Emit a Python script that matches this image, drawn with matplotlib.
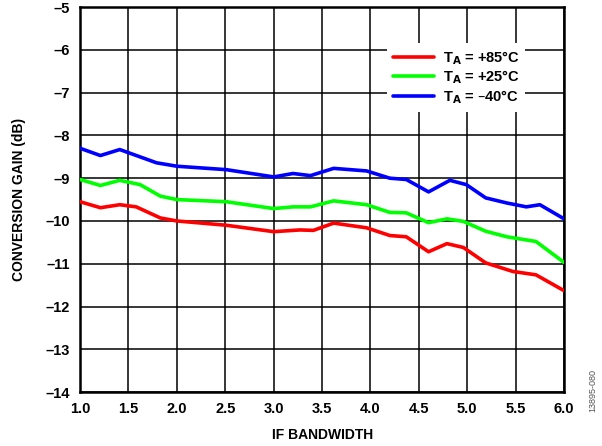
import matplotlib
matplotlib.use("Agg")
import matplotlib.pyplot as plt

plt.rcParams["font.family"] = ["Liberation Sans", "DejaVu Sans"]
plt.rcParams["font.weight"] = "bold"

# IF bandwidth (x) and conversion gain (dB) for each temperature
x_hot = [1.0, 1.21, 1.41, 1.58, 1.83, 2.0, 2.51, 3.0, 3.27, 3.41, 3.62, 3.96,
         4.2, 4.37, 4.6, 4.79, 4.96, 5.19, 5.47, 5.71, 6.0]
y_hot = [-9.55, -9.69, -9.62, -9.67, -9.93, -10.0, -10.1, -10.25, -10.21, -10.22,
         -10.05, -10.16, -10.34, -10.37, -10.72, -10.53, -10.62, -10.98, -11.18,
         -11.26, -11.63]

x_room = [1.0, 1.21, 1.41, 1.62, 1.83, 2.0, 2.51, 3.0, 3.2, 3.38, 3.62, 3.96,
          4.2, 4.37, 4.6, 4.79, 4.96, 5.19, 5.41, 5.71, 6.0]
y_room = [-9.03, -9.17, -9.05, -9.15, -9.42, -9.5, -9.55, -9.71, -9.67, -9.67,
          -9.53, -9.62, -9.8, -9.81, -10.04, -9.95, -10.01, -10.24, -10.37,
          -10.48, -10.97]

x_cold = [1.0, 1.21, 1.41, 1.79, 2.0, 2.51, 3.0, 3.2, 3.38, 3.62, 3.96, 4.2,
          4.37, 4.6, 4.82, 4.99, 5.19, 5.41, 5.61, 5.75, 6.0]
y_cold = [-8.3, -8.47, -8.33, -8.64, -8.72, -8.8, -8.97, -8.89, -8.94, -8.77,
          -8.83, -9.0, -9.03, -9.32, -9.05, -9.15, -9.46, -9.58, -9.67, -9.62,
          -9.95]

labels = ["T$_\\mathbf{A}$ = +85°C", "T$_\\mathbf{A}$ = +25°C", "T$_\\mathbf{A}$ = \u201340°C"]
colors = ["#ff0000", "#00ff00", "#0000ff"]

fig = plt.figure(figsize=(6.02, 4.46), dpi=100)
ax = fig.add_axes([0.133, 0.121, 0.804, 0.863])

for xs, ys, lab, c in zip([x_hot, x_room, x_cold], [y_hot, y_room, y_cold], labels, colors):
    ax.plot(xs, ys, color=c, lw=2.6, label=lab, solid_joinstyle="round",
            solid_capstyle="round", zorder=3)

ax.set_xlim(1.0, 6.0)
ax.set_ylim(-14, -5)
ax.set_xticks([1.0 + 0.5 * i for i in range(11)])
ax.set_xticklabels([f"{1.0 + 0.5 * i:.1f}" for i in range(11)])
ax.set_yticks(range(-14, -4))
ax.set_yticklabels([f"\u2013{abs(v)}" for v in range(-14, -4)])
ax.tick_params(length=0, labelsize=10.5, pad=7)
ax.grid(True, color="black", lw=1.1)
for sp in ax.spines.values():
    sp.set_linewidth(1.8)

ax.set_xlabel("IF BANDWIDTH", fontsize=10, fontweight="bold", labelpad=9)
ax.set_ylabel("CONVERSION GAIN (dB)", fontsize=10, fontweight="bold", labelpad=14)

leg = ax.legend(loc="upper right", bbox_to_anchor=(0.935, 0.925), fontsize=10.5,
                frameon=True, framealpha=1, edgecolor="white", fancybox=False,
                handlelength=2.8, handletextpad=0.6, labelspacing=0.12, borderpad=0.4)
leg.get_frame().set_linewidth(0)
for line in leg.get_lines():
    line.set_linewidth(2.6)

fig.text(0.985, 0.125, "13895-080", rotation=90, fontsize=6.5, color="#555555",
         fontweight="normal", ha="center", va="center")

fig.savefig("out.png", dpi=100)
